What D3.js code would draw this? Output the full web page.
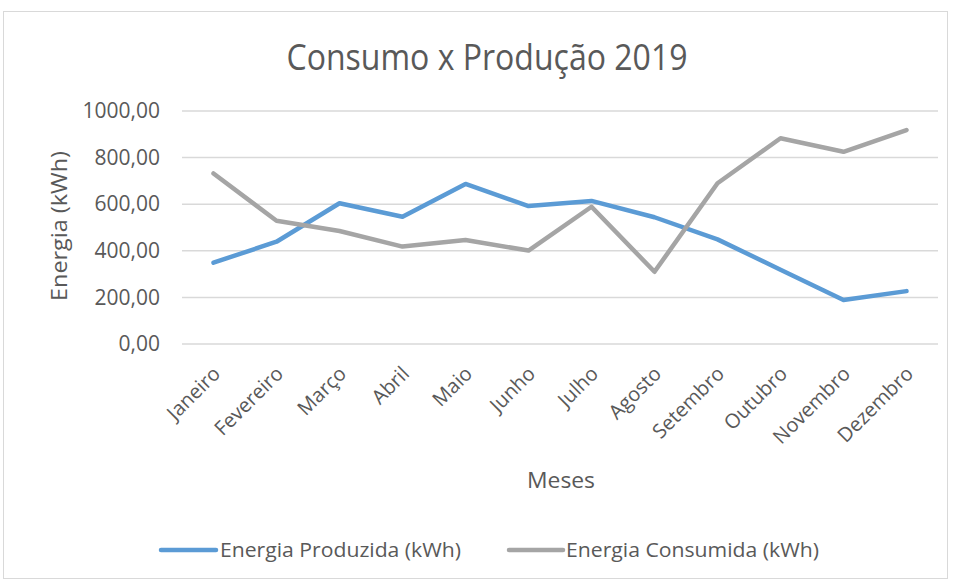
<!DOCTYPE html>
<html>
<head>
<meta charset="utf-8">
<script src="https://cdn.jsdelivr.net/npm/d3@7"></script>
<style>
  body { margin: 0; background: #fff; }
  svg { display: block; font-family: "Open Sans", sans-serif; }
</style>
</head>
<body>
<div id="chart"></div>
<script>
// Chart data
const months = ["Janeiro", "Fevereiro", "Março", "Abril", "Maio", "Junho",
                "Julho", "Agosto", "Setembro", "Outubro", "Novembro", "Dezembro"];
const produzida = [349, 439, 604, 546, 687, 592, 614, 544, 449, 319, 189, 227];
const consumida = [732, 529, 485, 418, 446, 401, 589, 310, 690, 883, 825, 918];
const yTicks = [0, 200, 400, 600, 800, 1000];
const seriesNames = ["Energia Produzida (kWh)", "Energia Consumida (kWh)"];

const W = 953, H = 582;
const margin = {top: 111, right: 15, bottom: 238, left: 182};
const width = W - margin.left - margin.right,
      height = H - margin.top - margin.bottom;

const textColor = "#595959";
const colors = ["#5B9BD5", "#A5A5A5"];

const svg = d3.select("#chart")
  .append("svg")
    .attr("width", W)
    .attr("height", H);

// Outer chart border
svg.append("rect")
  .attr("x", 3.5).attr("y", 11.5)
  .attr("width", 944).attr("height", 567)
  .attr("fill", "#fff")
  .attr("stroke", "#D9D9D9")
  .attr("stroke-width", 1);

const g = svg.append("g")
  .attr("transform", `translate(${margin.left},${margin.top})`);

// Scales
const x = d3.scaleBand()
  .domain(months)
  .range([0, width]);

const y = d3.scaleLinear()
  .domain([0, 1000])
  .range([height, 0]);

// Gridlines
g.append("g")
  .selectAll("line")
  .data(yTicks)
  .enter().append("line")
    .attr("x1", 0)
    .attr("x2", width)
    .attr("y1", d => y(d))
    .attr("y2", d => y(d))
    .attr("stroke", "#D9D9D9")
    .attr("stroke-width", 1.5);

// Y axis labels
const yAxis = g.append("g")
  .call(d3.axisLeft(y)
    .tickValues(yTicks)
    .tickSize(0)
    .tickPadding(22)
    .tickFormat(d => d3.format(".2f")(d).replace(".", ",")));
yAxis.select(".domain").remove();
yAxis.selectAll("text")
  .attr("fill", textColor)
  .style("font-size", "21px")
  .style("font-family", "'Open Sans', sans-serif");

// X axis labels (rotated)
const xAxis = g.append("g")
  .attr("transform", `translate(0,${height})`)
  .call(d3.axisBottom(x).tickSize(0));
xAxis.select(".domain").remove();
xAxis.selectAll("text")
  .attr("fill", textColor)
  .attr("y", 0)
  .attr("dy", 0)
  .attr("transform", "translate(8,31) rotate(-45)")
  .style("text-anchor", "end")
  .style("font-size", "20px")
  .style("font-family", "'Open Sans', sans-serif");

// Lines
const line = d3.line()
  .x((d, i) => x(months[i]) + x.bandwidth() / 2)
  .y(d => y(d));

[produzida, consumida].forEach((s, i) => {
  g.append("path")
    .datum(s)
    .attr("fill", "none")
    .attr("stroke", colors[i])
    .attr("stroke-width", 4.5)
    .attr("stroke-linejoin", "round")
    .attr("stroke-linecap", "round")
    .attr("d", line);
});

// Title
svg.append("text")
  .attr("x", 487)
  .attr("y", 70)
  .attr("text-anchor", "middle")
  .attr("fill", textColor)
  .attr("textLength", 401)
  .attr("lengthAdjust", "spacingAndGlyphs")
  .style("font-size", "37px")
  .text("Consumo x Produção 2019");

// Y axis title
svg.append("text")
  .attr("transform", "translate(67,226) rotate(-90)")
  .attr("text-anchor", "middle")
  .attr("fill", textColor)
  .attr("textLength", 150)
  .attr("lengthAdjust", "spacingAndGlyphs")
  .style("font-size", "22px")
  .text("Energia (kWh)");

// X axis title
svg.append("text")
  .attr("x", 561)
  .attr("y", 488)
  .attr("text-anchor", "middle")
  .attr("fill", textColor)
  .attr("textLength", 68)
  .attr("lengthAdjust", "spacingAndGlyphs")
  .style("font-size", "22px")
  .text("Meses");

// Legend
const legendItems = [
  {x1: 161, x2: 216, tx: 220, len: 241},
  {x1: 509, x2: 563, tx: 566, len: 253}
];
const legend = svg.append("g")
  .selectAll("g")
  .data(seriesNames)
  .enter().append("g");

legend.append("line")
  .attr("x1", (d, i) => legendItems[i].x1)
  .attr("x2", (d, i) => legendItems[i].x2)
  .attr("y1", 550)
  .attr("y2", 550)
  .attr("stroke", (d, i) => colors[i])
  .attr("stroke-width", 4.5)
  .attr("stroke-linecap", "round");

legend.append("text")
  .attr("x", (d, i) => legendItems[i].tx)
  .attr("y", 557)
  .attr("fill", textColor)
  .attr("textLength", (d, i) => legendItems[i].len)
  .attr("lengthAdjust", "spacingAndGlyphs")
  .style("font-size", "20px")
  .text(d => d);
</script>
</body>
</html>
